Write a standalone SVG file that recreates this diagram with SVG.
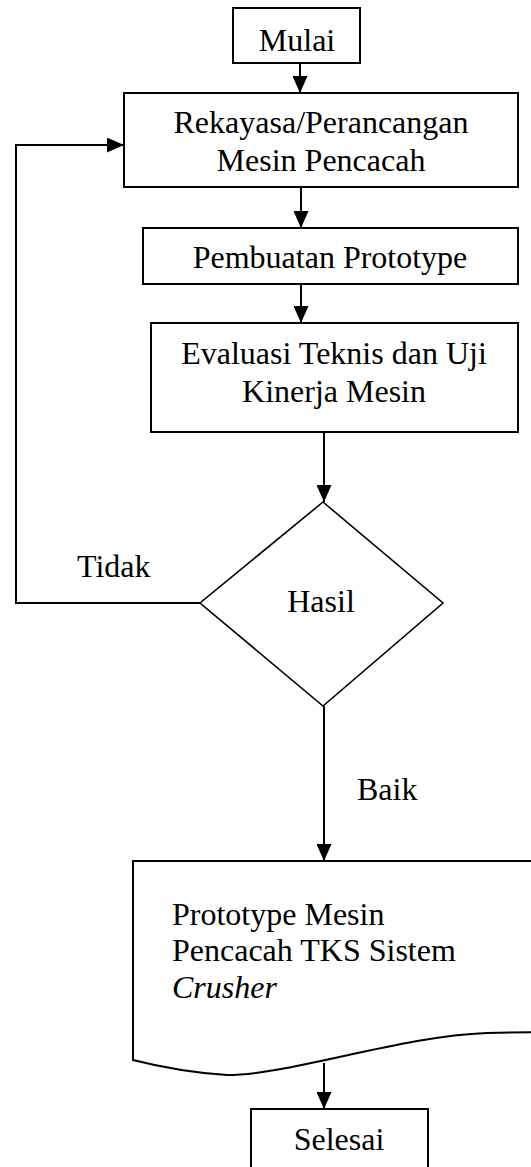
<svg xmlns="http://www.w3.org/2000/svg" width="531" height="1167" viewBox="0 0 531 1167">
<style>
.box{fill:#fff;stroke:#000;stroke-width:2}
.dia{fill:#fff;stroke:#000;stroke-width:1.6}
text{font-family:'Liberation Serif','Times New Roman','DejaVu Serif',serif;font-size:32px;fill:#000}
.c{text-anchor:middle}
.i{font-style:italic}
.con{fill:none;stroke:#000;stroke-width:2}
</style>
<defs>
<marker id="ah" markerUnits="userSpaceOnUse" markerWidth="17" markerHeight="15" refX="17" refY="7.5" orient="auto">
<path d="M0,0 L17,7.5 L0,15 z" fill="#000"/>
</marker>
</defs>
<rect width="531" height="1167" fill="#fff"/>
<g id="connectors">
<line class="con" x1="300" y1="63" x2="300" y2="93" marker-end="url(#ah)"/>
<line class="con" x1="301" y1="187" x2="301" y2="228" marker-end="url(#ah)"/>
<line class="con" x1="301" y1="284" x2="301" y2="323" marker-end="url(#ah)"/>
<line class="con" x1="324" y1="432" x2="324" y2="502" marker-end="url(#ah)"/>
<polyline class="con" points="200,603 16,603 16,145 124,145" marker-end="url(#ah)"/>
<line class="con" x1="324" y1="706" x2="324" y2="861" marker-end="url(#ah)"/>
<line class="con" x1="324" y1="1063" x2="324" y2="1109" marker-end="url(#ah)"/>
<text font-family="Liberation Serif, serif" x="77" y="577">Tidak</text>
<text font-family="Liberation Serif, serif" x="357" y="800">Baik</text>
</g>
<g id="mulai">
<rect class="box" x="233" y="8" width="127" height="55"/>
<text font-family="Liberation Serif, serif" class="c" x="297" y="51">Mulai</text>
</g>
<g id="rekayasa">
<rect class="box" x="124" y="93" width="394" height="94"/>
<text font-family="Liberation Serif, serif" class="c" x="321" y="133">Rekayasa/Perancangan</text>
<text font-family="Liberation Serif, serif" class="c" x="321" y="171">Mesin Pencacah</text>
</g>
<g id="pembuatan">
<rect class="box" x="143" y="228" width="375" height="56"/>
<text font-family="Liberation Serif, serif" class="c" x="330" y="268">Pembuatan Prototype</text>
</g>
<g id="evaluasi">
<rect class="box" x="151" y="323" width="367" height="109"/>
<text font-family="Liberation Serif, serif" class="c" x="334" y="364">Evaluasi Teknis dan Uji</text>
<text font-family="Liberation Serif, serif" class="c" x="334" y="402">Kinerja Mesin</text>
</g>
<g id="hasil">
<polygon class="dia" points="323,502 443,603 323,706 200,603"/>
<text font-family="Liberation Serif, serif" class="c" x="321" y="612">Hasil</text>
</g>
<g id="prototype">
<path class="box" d="M540,861 H133 V1060 Q180,1072 227,1075 C290,1075 400,1036 487,1033 L540,1032"/>
<text font-family="Liberation Serif, serif" x="172" y="925">Prototype Mesin</text>
<text font-family="Liberation Serif, serif" x="172" y="961">Pencacah TKS Sistem</text>
<text font-family="Liberation Serif, serif" class="i" x="172" y="998">Crusher</text>
</g>
<g id="selesai">
<rect class="box" x="251" y="1109" width="177" height="80"/>
<text font-family="Liberation Serif, serif" class="c" x="339" y="1150">Selesai</text>
</g>
</svg>
